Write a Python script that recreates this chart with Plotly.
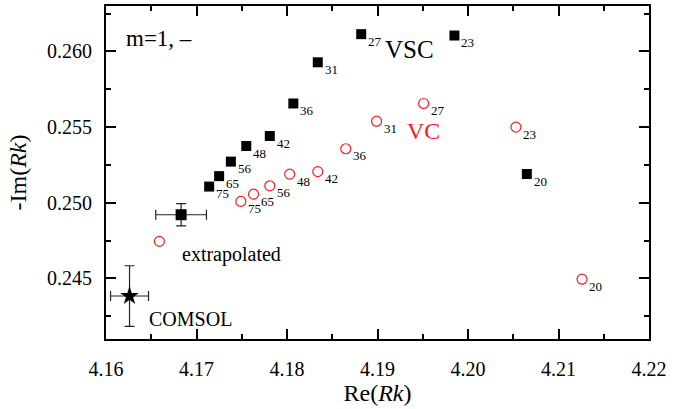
import plotly.graph_objects as go

# ---- data ----
N_labels = [20, 23, 27, 31, 36, 42, 48, 56, 65, 75]

vsc_re = [4.2065, 4.1985, 4.1882, 4.1834, 4.1807, 4.1781, 4.1755, 4.1738, 4.1725, 4.1714]
vsc_im = [0.25190, 0.26105, 0.26114, 0.25928, 0.25656, 0.25441, 0.25375, 0.25272, 0.25176, 0.25107]

vc_re = [4.2126, 4.2053, 4.1951, 4.1899, 4.1865, 4.1834, 4.1803, 4.1781, 4.1763, 4.1749]
vc_im = [0.24495, 0.25500, 0.25656, 0.25539, 0.25357, 0.25206, 0.25189, 0.25112, 0.25057, 0.25009]

extrap_vsc_re = [4.1683]
extrap_vsc_im = [0.24921]
extrap_vsc_err_re = [0.0028]
extrap_vsc_err_im = [0.00073]

extrap_vc_re = [4.1659]
extrap_vc_im = [0.24745]

comsol_re = [4.1626]
comsol_im = [0.24384]
comsol_err_re = [0.0021]
comsol_err_im = [0.0020]

FONT = "Liberation Serif, Times New Roman, serif"
RED = "#ff1a1a"

fig = go.Figure()

fig.add_trace(go.Scatter(
    x=vsc_re, y=vsc_im, mode="markers",
    marker=dict(symbol="square", size=10, color="black"),
    showlegend=False))

fig.add_trace(go.Scatter(
    x=vc_re, y=vc_im, mode="markers",
    marker=dict(symbol="circle-open", size=10, color=RED, line=dict(width=1.2, color=RED)),
    showlegend=False))

fig.add_trace(go.Scatter(
    x=extrap_vsc_re, y=extrap_vsc_im, mode="markers",
    marker=dict(symbol="square", size=11, color="black"),
    error_x=dict(type="data", array=extrap_vsc_err_re, color="#222", thickness=1.2, width=5),
    error_y=dict(type="data", array=extrap_vsc_err_im, color="#222", thickness=1.2, width=5),
    showlegend=False))

fig.add_trace(go.Scatter(
    x=extrap_vc_re, y=extrap_vc_im, mode="markers",
    marker=dict(symbol="circle-open", size=10, color=RED, line=dict(width=1.2, color=RED)),
    showlegend=False))

fig.add_trace(go.Scatter(
    x=comsol_re, y=comsol_im, mode="markers",
    marker=dict(symbol="star", size=14, color="black"),
    error_x=dict(type="data", array=comsol_err_re, color="#222", thickness=1.2, width=5),
    error_y=dict(type="data", array=comsol_err_im, color="#222", thickness=1.2, width=5),
    showlegend=False))

annotations = []
for xs, ys in ((vsc_re, vsc_im), (vc_re, vc_im)):
    for n, xv, yv in zip(N_labels, xs, ys):
        annotations.append(dict(
            x=xv, y=yv, xref="x", yref="y", text=str(n), showarrow=False,
            xanchor="left", yanchor="middle", xshift=5, yshift=-7,
            font=dict(family=FONT, size=13, color="black")))

annotations += [
    dict(x=4.1620, y=0.26085, xref="x", yref="y", text="m=1, \u2013", showarrow=False,
         xanchor="left", yanchor="middle", font=dict(family=FONT, size=23, color="black")),
    dict(x=4.1906, y=0.26010, xref="x", yref="y", text="VSC", showarrow=False,
         xanchor="left", yanchor="middle", font=dict(family=FONT, size=25, color="black")),
    dict(x=4.1932, y=0.25491, xref="x", yref="y", text="VC", showarrow=False,
         xanchor="left", yanchor="middle", yshift=-3, borderpad=0,
         font=dict(family=FONT, size=24, color=RED)),
    dict(x=4.1682, y=0.24660, xref="x", yref="y", text="extrapolated", showarrow=False,
         xanchor="left", yanchor="middle", font=dict(family=FONT, size=20, color="black")),
    dict(x=4.1645, y=0.24235, xref="x", yref="y", text="COMSOL", showarrow=False,
         xanchor="left", yanchor="middle", font=dict(family=FONT, size=20, color="black")),
]

axis_common = dict(
    showline=True, linecolor="black", linewidth=2, mirror="allticks",
    ticks="inside", ticklen=10, tickwidth=2, tickcolor="black",
    showgrid=False, zeroline=False,
    tickfont=dict(family=FONT, size=20, color="black"),
)

fig.update_layout(
    width=693, height=409,
    margin=dict(l=106, r=44, t=4, b=70),
    plot_bgcolor="white", paper_bgcolor="white",
    font=dict(family=FONT, color="black"),
    annotations=annotations,
    xaxis=dict(
        range=[4.16, 4.22], dtick=0.01, tick0=4.16, tickformat=".2f",
        minor=dict(ticks="inside", ticklen=5, tickwidth=2, tickcolor="black", dtick=0.005),
        title=dict(text="Re(<i>Rk</i>)", font=dict(family=FONT, size=24), standoff=4),
        ticklabelstandoff=11,
        **axis_common),
    yaxis=dict(
        range=[0.241, 0.263], dtick=0.005, tick0=0.245, tickformat=".3f",
        minor=dict(ticks="inside", ticklen=5, tickwidth=2, tickcolor="black", dtick=0.0025),
        title=dict(text="-Im(<i>Rk</i>)", font=dict(family=FONT, size=24), standoff=14),
        ticklabelstandoff=8,
        **axis_common),
)

fig.write_html("out.html")
